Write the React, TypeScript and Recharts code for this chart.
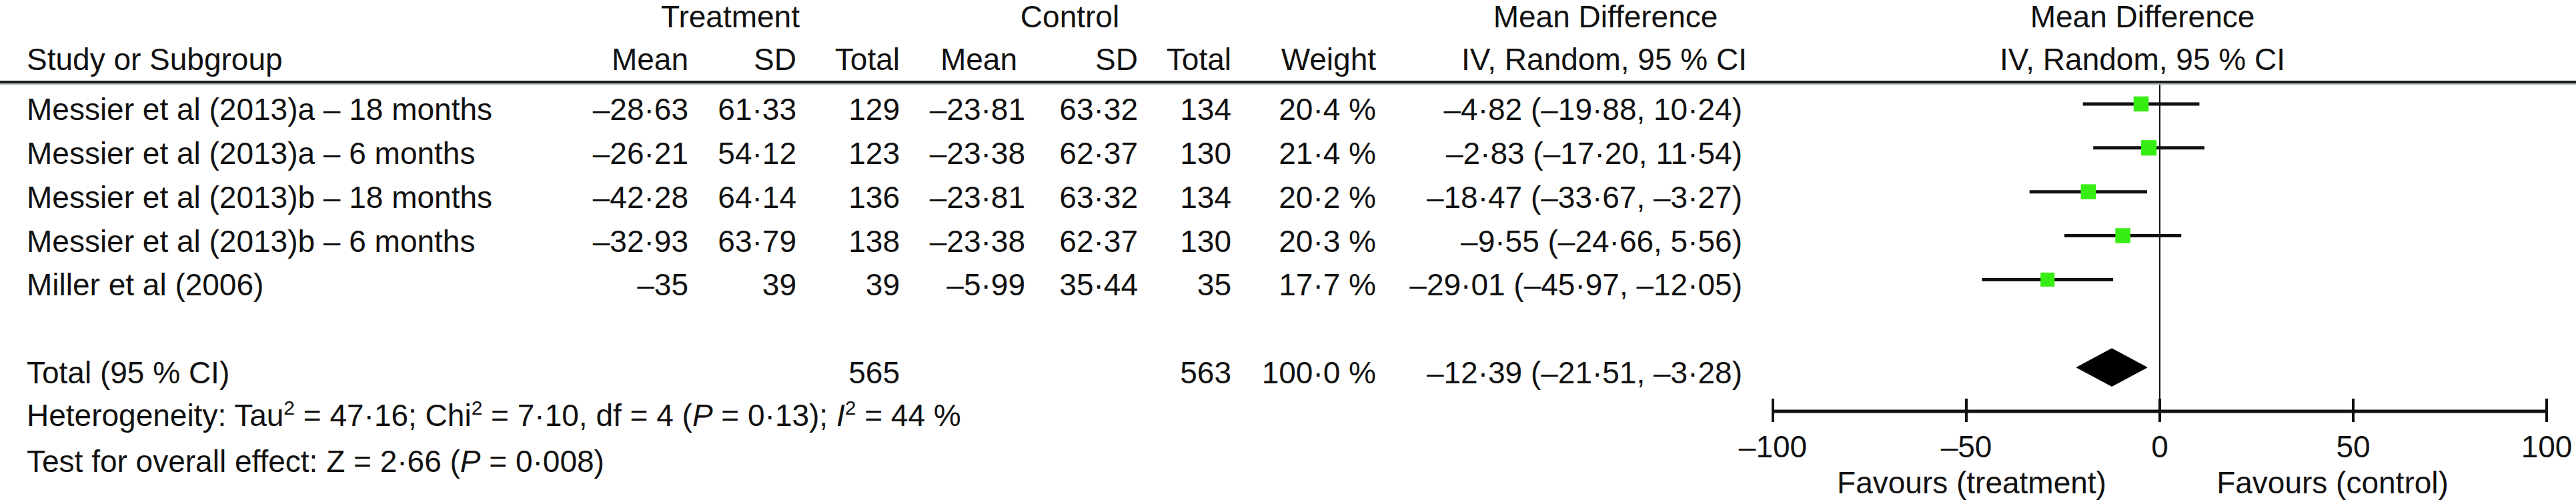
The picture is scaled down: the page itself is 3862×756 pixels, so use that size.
import React from 'react';
import {
  ComposedChart,
  XAxis,
  YAxis,
  Scatter,
  Area,
  ReferenceLine,
} from 'recharts';

// study rows
const studies = [
  'Messier et al (2013)a – 18 months',
  'Messier et al (2013)a – 6 months',
  'Messier et al (2013)b – 18 months',
  'Messier et al (2013)b – 6 months',
  'Miller et al (2006)',
];
const trtMean = [-28.63, -26.21, -42.28, -32.93, -35];
const trtSD = [61.33, 54.12, 64.14, 63.79, 39];
const trtN = [129, 123, 136, 138, 39];
const ctlMean = [-23.81, -23.38, -23.81, -23.38, -5.99];
const ctlSD = [63.32, 62.37, 63.32, 62.37, 35.44];
const ctlN = [134, 130, 134, 130, 35];
const weights = [20.4, 21.4, 20.2, 20.3, 17.7];
const md = [-4.82, -2.83, -18.47, -9.55, -29.01];
const ciLow = [-19.88, -17.2, -33.67, -24.66, -45.97];
const ciHigh = [10.24, 11.54, -3.27, 5.56, -12.05];

// pooled result
const totalTrtN = 565;
const totalCtlN = 563;
const totalWeight = 100.0;
const totalMd = -12.39;
const totalLow = -21.51;
const totalHigh = -3.28;

const xTicks = [-100, -50, 0, 50, 100];
const rowIdx = [1, 2, 3, 4, 5];
const TOTAL_ROW = 7;

const W = 3862;
const H = 756;
const FONT = '"Liberation Sans", Arial, Helvetica, sans-serif';
const FS = 46;
const INK = '#111';
const GREEN = '#36ee12';

// column anchors of the table (right aligned except study)
const COL = {
  study: 40,
  tMean: 1032,
  tSD: 1194,
  tN: 1349,
  cMean: 1537,
  cSD: 1706,
  cN: 1846,
  weight: 2063,
  ci: 2612,
};

const num = (v: number, d: number, dropInt = false) => {
  const a = Math.abs(v);
  const s = dropInt && Number.isInteger(a) ? String(a) : a.toFixed(d);
  return (v < 0 ? '–' : '') + s.replace('.', '·');
};
const ciText = (m: number, lo: number, hi: number) =>
  `${num(m, 2)} (${num(lo, 2)}, ${num(hi, 2)})`;

const rows = studies.map((name, i) => ({
  x: md[i],
  y: rowIdx[i],
  name,
  tMean: num(trtMean[i], 2, true),
  tSD: num(trtSD[i], 2, true),
  tN: String(trtN[i]),
  cMean: num(ctlMean[i], 2, true),
  cSD: num(ctlSD[i], 2, true),
  cN: String(ctlN[i]),
  weight: `${num(weights[i], 1)} %`,
  w: weights[i],
  ci: ciText(md[i], ciLow[i], ciHigh[i]),
}));

const totalRow = {
  x: totalMd,
  y: TOTAL_ROW,
  name: 'Total (95 % CI)',
  tMean: '',
  tSD: '',
  tN: String(totalTrtN),
  cMean: '',
  cSD: '',
  cN: String(totalCtlN),
  weight: `${num(totalWeight, 1)} %`,
  w: 0,
  ci: ciText(totalMd, totalLow, totalHigh),
};

// diamond as a range area: tips at CI ends, widest at the estimate
const DIAMOND_H = 0.43;
const diamond = [
  { x: totalLow, band: [TOTAL_ROW, TOTAL_ROW] },
  { x: totalMd, band: [TOTAL_ROW - DIAMOND_H, TOTAL_ROW + DIAMOND_H] },
  { x: totalHigh, band: [TOTAL_ROW, TOTAL_ROW] },
];

const TableRow = (props: any) => {
  const { cy, payload } = props;
  const y = cy + 24;
  const t = { fontFamily: FONT, fontSize: FS, fill: INK };
  return (
    <g>
      <text x={COL.study} y={y} {...t}>{payload.name}</text>
      <text x={COL.tMean} y={y} textAnchor="end" {...t}>{payload.tMean}</text>
      <text x={COL.tSD} y={y} textAnchor="end" {...t}>{payload.tSD}</text>
      <text x={COL.tN} y={y} textAnchor="end" {...t}>{payload.tN}</text>
      <text x={COL.cMean} y={y} textAnchor="end" {...t}>{payload.cMean}</text>
      <text x={COL.cSD} y={y} textAnchor="end" {...t}>{payload.cSD}</text>
      <text x={COL.cN} y={y} textAnchor="end" {...t}>{payload.cN}</text>
      <text x={COL.weight} y={y} textAnchor="end" {...t}>{payload.weight}</text>
      <text x={COL.ci} y={y} textAnchor="end" {...t}>{payload.ci}</text>
    </g>
  );
};

const Square = (props: any) => {
  const { cx, cy, payload } = props;
  const s = 5 * Math.sqrt(payload.w);
  return <rect x={cx - s / 2} y={cy - s / 2} width={s} height={s} fill={GREEN} />;
};

const tickFmt = (v: number) => (v < 0 ? `–${Math.abs(v)}` : `${v}`);

export default function App() {
  const txt = { fontFamily: FONT, fontSize: FS, fill: INK };
  return (
    <div style={{ position: 'absolute', left: 0, top: 0, width: W, height: H, background: '#fff' }}>
      <ComposedChart
        width={W}
        height={H}
        margin={{ top: 123, right: 44, bottom: 0, left: 2658 }}
      >
        <XAxis
          type="number"
          dataKey="x"
          domain={[-100, 100]}
          ticks={xTicks}
          height={139}
          tickFormatter={tickFmt}
          axisLine={{ stroke: INK, strokeWidth: 5 }}
          tickLine={{ stroke: INK, strokeWidth: 4 }}
          tickSize={16}
          tickMargin={20}
          tick={{ fontFamily: FONT, fontSize: FS, fill: INK }}
        />
        <YAxis type="number" dataKey="y" domain={[0.5, 8]} reversed hide />

        <ReferenceLine x={0} stroke={INK} strokeWidth={2} />
        {xTicks.map((t) => (
          <ReferenceLine
            key={`tk-${t}`}
            segment={[{ x: t, y: 7.71 }, { x: t, y: 8 }]}
            stroke={INK}
            strokeWidth={4}
          />
        ))}
        {rows.map((r, i) => (
          <ReferenceLine
            key={`ci-${i}`}
            segment={[{ x: ciLow[i], y: r.y }, { x: ciHigh[i], y: r.y }]}
            stroke={INK}
            strokeWidth={5}
          />
        ))}

        <Area
          data={diamond}
          dataKey="band"
          type="linear"
          stroke="#000"
          fill="#000"
          fillOpacity={1}
          isAnimationActive={false}
        />
        <Scatter data={rows} shape={<Square />} isAnimationActive={false} />
        <Scatter data={[...rows, totalRow]} shape={<TableRow />} isAnimationActive={false} />
      </ComposedChart>

      <svg
        width={W}
        height={H}
        style={{ position: 'absolute', left: 0, top: 0, pointerEvents: 'none' }}
      >
        <rect x={0} y={121} width={W} height={4} fill="#1b1f1f" />
        <rect x={0} y={125} width={W} height={2} fill="#a9b4b4" />

        <text x={1095} y={41} textAnchor="middle" {...txt}>Treatment</text>
        <text x={1604} y={41} textAnchor="middle" {...txt}>Control</text>
        <text x={2407} y={41} textAnchor="middle" {...txt}>Mean Difference</text>
        <text x={3212} y={41} textAnchor="middle" {...txt}>Mean Difference</text>

        <text x={COL.study} y={105} {...txt}>Study or Subgroup</text>
        <text x={COL.tMean} y={105} textAnchor="end" {...txt}>Mean</text>
        <text x={COL.tSD} y={105} textAnchor="end" {...txt}>SD</text>
        <text x={COL.tN} y={105} textAnchor="end" {...txt}>Total</text>
        <text x={COL.cMean - 12} y={105} textAnchor="end" {...txt}>Mean</text>
        <text x={COL.cSD} y={105} textAnchor="end" {...txt}>SD</text>
        <text x={COL.cN} y={105} textAnchor="end" {...txt}>Total</text>
        <text x={COL.weight} y={105} textAnchor="end" {...txt}>Weight</text>
        <text x={2405} y={105} textAnchor="middle" {...txt}>IV, Random, 95 % CI</text>
        <text x={3212} y={105} textAnchor="middle" {...txt}>IV, Random, 95 % CI</text>

        <text x={COL.study} y={639} {...txt}>
          Heterogeneity: Tau
          <tspan dy={-17} fontSize={30}>2</tspan>
          <tspan dy={17}> = 47·16; Chi</tspan>
          <tspan dy={-17} fontSize={30}>2</tspan>
          <tspan dy={17}> = 7·10, df = 4 (</tspan>
          <tspan fontStyle="italic">P</tspan>
          <tspan> = 0·13); </tspan>
          <tspan fontStyle="italic">I</tspan>
          <tspan dy={-17} fontSize={30}>2</tspan>
          <tspan dy={17}> = 44 %</tspan>
        </text>
        <text x={COL.study} y={708} {...txt}>
          Test for overall effect: Z = 2·66 (
          <tspan fontStyle="italic">P</tspan>
          <tspan> = 0·008)</tspan>
        </text>

        <text x={2956} y={740} textAnchor="middle" {...txt}>Favours (treatment)</text>
        <text x={3497} y={740} textAnchor="middle" {...txt}>Favours (control)</text>
      </svg>
    </div>
  );
}
